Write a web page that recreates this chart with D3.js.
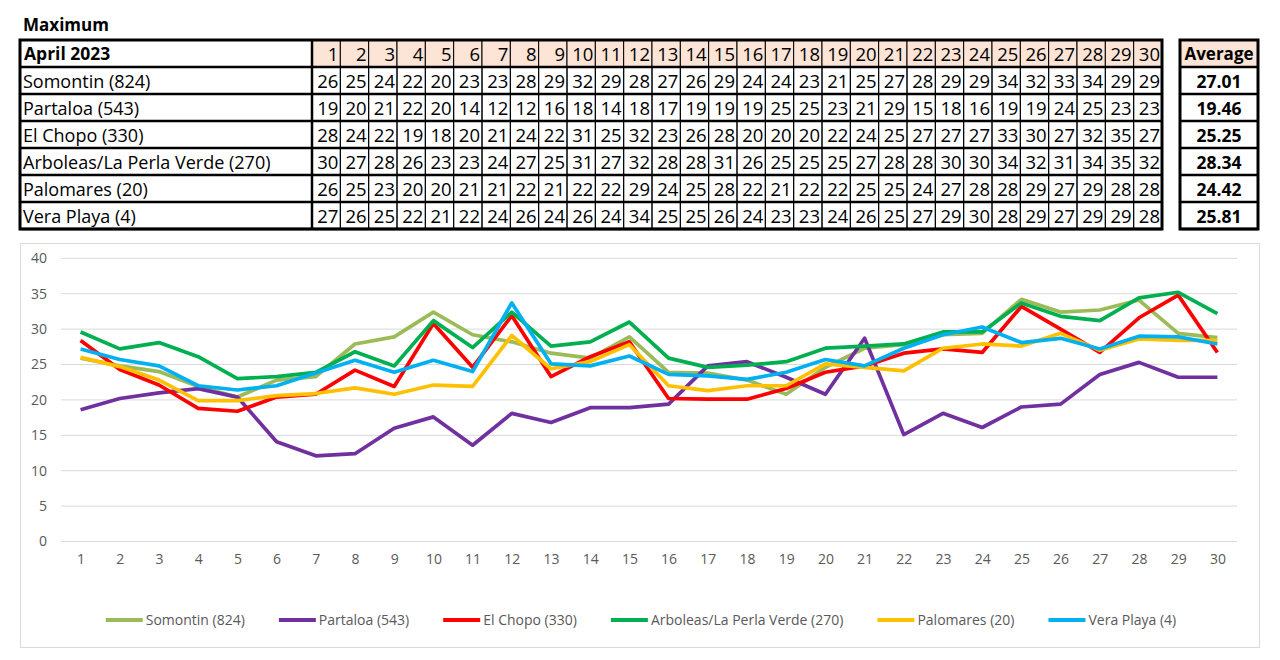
<!DOCTYPE html>
<html>
<head>
<meta charset="utf-8">
<script src="https://cdn.jsdelivr.net/npm/d3@7"></script>
<style>
  body { margin: 0; background: #fff; }
  svg { display: block; font-family: 'Open Sans', 'Noto Sans', sans-serif; }
</style>
</head>
<body>
<svg id="chart" width="1280" height="660"></svg>
<script>
// Data
const days = [1, 2, 3, 4, 5, 6, 7, 8, 9, 10, 11, 12, 13, 14, 15, 16, 17, 18, 19, 20, 21, 22, 23, 24, 25, 26, 27, 28, 29, 30];
const stations = ['Somontin (824)', 'Partaloa (543)', 'El Chopo (330)', 'Arboleas/La Perla Verde (270)', 'Palomares (20)', 'Vera Playa (4)'];
const somontin = [25.9, 24.8, 24.0, 21.9, 20.4, 22.8, 23.3, 27.9, 28.9, 32.4, 29.2, 28.2, 26.6, 25.9, 28.9, 23.9, 23.8, 22.8, 20.8, 24.6, 27.3, 27.8, 29.2, 29.4, 34.2, 32.4, 32.7, 34.1, 29.4, 28.8];
const partaloa = [18.6, 20.2, 21.0, 21.6, 20.4, 14.1, 12.1, 12.4, 16.0, 17.6, 13.6, 18.1, 16.8, 18.9, 18.9, 19.4, 24.8, 25.4, 23.2, 20.8, 28.7, 15.1, 18.1, 16.1, 19.0, 19.4, 23.6, 25.3, 23.2, 23.2];
const elChopo = [28.4, 24.3, 22.1, 18.8, 18.4, 20.4, 20.8, 24.2, 21.9, 30.8, 24.6, 31.9, 23.3, 26.1, 28.2, 20.2, 20.1, 20.1, 21.6, 23.9, 24.8, 26.6, 27.2, 26.7, 33.2, 30.0, 26.7, 31.6, 34.8, 26.7];
const arboleas = [29.6, 27.2, 28.1, 26.1, 23.0, 23.3, 23.9, 26.8, 24.8, 31.2, 27.4, 32.4, 27.6, 28.2, 31.0, 25.9, 24.6, 24.9, 25.4, 27.3, 27.6, 27.9, 29.6, 29.6, 33.7, 31.8, 31.2, 34.4, 35.2, 32.2];
const palomares = [26.0, 24.7, 22.8, 19.9, 19.9, 20.6, 20.9, 21.7, 20.8, 22.1, 21.9, 29.1, 24.4, 25.4, 27.8, 22.0, 21.3, 22.0, 22.0, 25.1, 24.6, 24.1, 27.3, 27.9, 27.6, 29.4, 27.0, 28.6, 28.4, 28.4];
const veraPlaya = [27.2, 25.7, 24.8, 22.0, 21.4, 22.0, 23.8, 25.6, 23.9, 25.6, 24.0, 33.7, 25.1, 24.8, 26.2, 23.6, 23.4, 22.9, 23.9, 25.7, 24.8, 27.3, 29.2, 30.3, 28.1, 28.7, 27.2, 29.0, 28.9, 27.9];
const averages = ['27.01', '19.46', '25.25', '28.34', '24.42', '25.81'];
const yTicks = [0, 5, 10, 15, 20, 25, 30, 35, 40];
const colors = ['#9bbb59', '#7030a0', '#ff0000', '#00b050', '#ffc000', '#00b0f0'];

const seriesValues = [somontin, partaloa, elChopo, arboleas, palomares, veraPlaya];
const series = stations.map((name, i) => ({ name, values: seriesValues[i], color: colors[i] }));

const svg = d3.select('#chart');

// ---- Table ----
svg.append('text')
    .attr('x', 23).attr('y', 31)
    .attr('font-size', 17).attr('font-weight', 'bold')
    .text('Maximum');

const TABLE = { left: 20, nameRight: 312, right: 1162, top: 40, headerH: 27, rowH: 27 };
const NUM_SIZE = 18.5;
const colX = d3.scaleBand().domain(days).range([TABLE.nameRight, TABLE.right]);
const rowY = d3.scaleBand().domain(stations).range([TABLE.top + TABLE.headerH, TABLE.top + TABLE.headerH + TABLE.rowH * stations.length]);
const tableBottom = rowY.range()[1];
const rowLines = [TABLE.top + TABLE.headerH].concat(stations.map(s => rowY(s) + rowY.bandwidth()));

const table = svg.append('g');

// header cells
table.selectAll('.hcell').data(days).enter().append('rect')
    .attr('x', d => colX(d)).attr('y', TABLE.top)
    .attr('width', colX.bandwidth()).attr('height', TABLE.headerH)
    .attr('fill', '#fce4d6').attr('stroke', '#000').attr('stroke-width', 1);
table.selectAll('.htext').data(days).enter().append('text')
    .attr('x', d => colX(d) + colX.bandwidth() - 2)
    .attr('y', TABLE.top + 21)
    .attr('text-anchor', 'end').attr('font-size', NUM_SIZE)
    .text(d => d);
table.append('text')
    .attr('x', TABLE.left + 4).attr('y', TABLE.top + 20)
    .attr('font-size', 17.5).attr('font-weight', 'bold')
    .text('April 2023');

// body rows
series.forEach(s => {
    const y0 = rowY(s.name);
    table.append('text')
        .attr('x', TABLE.left + 3).attr('y', y0 + 20.5)
        .attr('font-size', 18)
        .text(s.name);
    table.selectAll(null).data(s.values).enter().append('rect')
        .attr('x', (d, i) => colX(days[i])).attr('y', y0)
        .attr('width', colX.bandwidth()).attr('height', rowY.bandwidth())
        .attr('fill', 'none').attr('stroke', '#000').attr('stroke-width', 1);
    table.selectAll(null).data(s.values).enter().append('text')
        .attr('x', (d, i) => colX(days[i]) + colX.bandwidth() - 2)
        .attr('y', y0 + 21)
        .attr('text-anchor', 'end').attr('font-size', NUM_SIZE)
        .text(d => Math.round(d));
});

// row separators and outer frame
rowLines.forEach(y => {
    table.append('line')
        .attr('x1', TABLE.left).attr('x2', TABLE.right)
        .attr('y1', y).attr('y2', y)
        .attr('stroke', '#000').attr('stroke-width', 2.5);
});
table.append('line')
    .attr('x1', TABLE.nameRight).attr('x2', TABLE.nameRight)
    .attr('y1', TABLE.top).attr('y2', tableBottom)
    .attr('stroke', '#000').attr('stroke-width', 2.5);
table.append('rect')
    .attr('x', TABLE.left).attr('y', TABLE.top)
    .attr('width', TABLE.right - TABLE.left).attr('height', tableBottom - TABLE.top)
    .attr('fill', 'none').attr('stroke', '#000').attr('stroke-width', 3);

// average table
const AVG = { left: 1180, right: 1258 };
const avg = svg.append('g');
avg.append('rect')
    .attr('x', AVG.left).attr('y', TABLE.top)
    .attr('width', AVG.right - AVG.left).attr('height', TABLE.headerH)
    .attr('fill', '#fce4d6');
avg.append('text')
    .attr('x', (AVG.left + AVG.right) / 2).attr('y', TABLE.top + 20)
    .attr('text-anchor', 'middle').attr('font-size', 17).attr('font-weight', 'bold')
    .text('Average');
stations.forEach((name, i) => {
    avg.append('text')
        .attr('x', (AVG.left + AVG.right) / 2).attr('y', rowY(name) + 21)
        .attr('text-anchor', 'middle').attr('font-size', 17.5).attr('font-weight', 'bold')
        .text(averages[i]);
});
rowLines.forEach(y => {
    avg.append('line')
        .attr('x1', AVG.left).attr('x2', AVG.right)
        .attr('y1', y).attr('y2', y)
        .attr('stroke', '#000').attr('stroke-width', 2.5);
});
avg.append('rect')
    .attr('x', AVG.left).attr('y', TABLE.top)
    .attr('width', AVG.right - AVG.left).attr('height', tableBottom - TABLE.top)
    .attr('fill', 'none').attr('stroke', '#000').attr('stroke-width', 3);

// ---- Line chart ----
svg.append('rect')
    .attr('x', 20.5).attr('y', 243.5)
    .attr('width', 1239).attr('height', 404)
    .attr('fill', '#fff').attr('stroke', '#d9d9d9');

const PLOT = { left: 61, right: 1237, top: 258.3, bottom: 541.5 };
const x = d3.scalePoint().domain(days).range([PLOT.left, PLOT.right]).padding(0.5);
const y = d3.scaleLinear().domain([0, 40]).range([PLOT.bottom, PLOT.top]);

const grid = svg.append('g');
grid.selectAll('line').data(yTicks).enter().append('line')
    .attr('x1', PLOT.left).attr('x2', PLOT.right)
    .attr('y1', d => y(d)).attr('y2', d => y(d))
    .attr('stroke', '#d9d9d9').attr('stroke-width', 1);

const yAxis = svg.append('g')
    .attr('transform', `translate(${PLOT.left},0)`)
    .call(d3.axisLeft(y).tickValues(yTicks).tickSize(0).tickPadding(14));
yAxis.select('.domain').remove();
yAxis.selectAll('text').attr('font-size', 14).attr('fill', '#595959')
    .attr('font-family', "'Open Sans', sans-serif");

const xAxis = svg.append('g')
    .attr('transform', `translate(0,${PLOT.bottom})`)
    .call(d3.axisBottom(x).tickSize(0).tickPadding(13));
xAxis.select('.domain').remove();
xAxis.selectAll('text').attr('font-size', 14).attr('fill', '#595959')
    .attr('font-family', "'Open Sans', sans-serif");

const line = d3.line()
    .x((d, i) => x(days[i]))
    .y(d => y(d));

svg.append('g').selectAll('path').data(series).enter().append('path')
    .attr('d', d => line(d.values))
    .attr('fill', 'none')
    .attr('stroke', d => d.color)
    .attr('stroke-width', 3.7)
    .attr('stroke-linejoin', 'round');

// Legend
const legend = svg.append('g').attr('transform', 'translate(0,620)');
const items = legend.selectAll('g').data(series).enter().append('g');
items.append('line')
    .attr('x1', 0).attr('x2', 37).attr('y1', 0).attr('y2', 0)
    .attr('stroke', d => d.color).attr('stroke-width', 4);
items.append('text')
    .attr('x', 40).attr('y', 5)
    .attr('font-size', 14).attr('fill', '#595959')
    .text(d => d.name);

let widths = [];
items.each(function () { widths.push(40 + d3.select(this).select('text').node().getComputedTextLength()); });
const gap = 34;
const total = d3.sum(widths) + gap * (widths.length - 1);
let cursor = 641 - total / 2;
items.attr('transform', (d, i) => {
    const t = `translate(${cursor},0)`;
    cursor += widths[i] + gap;
    return t;
});
</script>
</body>
</html>
